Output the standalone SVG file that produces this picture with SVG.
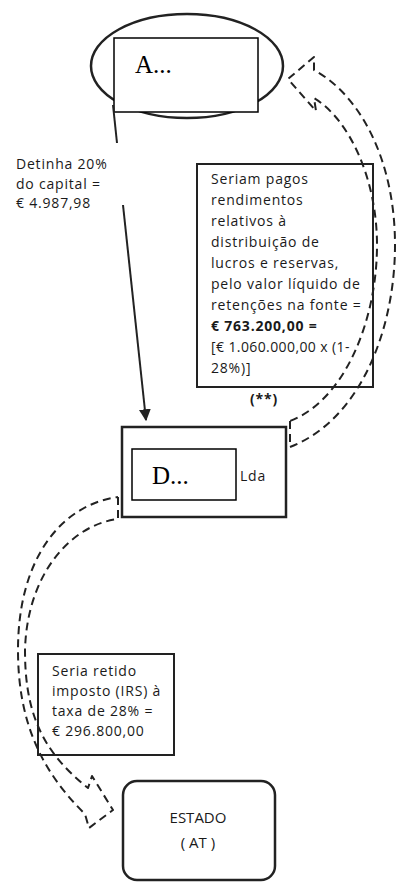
<svg xmlns="http://www.w3.org/2000/svg" width="398" height="884" viewBox="0 0 398 884">
<defs>
<style>
.t{font-family:"Open Sans","Liberation Sans",sans-serif;font-size:14px;fill:#1a1a1a;letter-spacing:0.8px}
.b{font-weight:bold}
.serif{font-family:"Liberation Serif","Times New Roman",serif;font-size:25px;fill:#000}
.box{fill:#fff;stroke:#222;stroke-width:2}
.inner{fill:#fff;stroke:#000;stroke-width:1.5}
.dash{fill:none;stroke:#222;stroke-width:2;stroke-dasharray:8 5;stroke-linejoin:round}
.solid{fill:none;stroke:#222;stroke-width:2}
</style>
<marker id="ah" viewBox="0 0 10 10" refX="9" refY="5" markerWidth="6" markerHeight="6" orient="auto" markerUnits="strokeWidth">
<path d="M0,0 L10,5 L0,10 z" fill="#222"/>
</marker>
</defs>
<rect width="398" height="884" fill="#fff"/>

<g id="nodeA">
<ellipse cx="187" cy="66" rx="96" ry="52" fill="none" stroke="#222" stroke-width="2.5"/>
<rect x="114" y="38" width="144" height="74" class="inner"/>
<text x="135" y="73" class="serif">A...</text>
</g>

<g id="label-detinha">
<text class="t" x="16" y="169">Detinha 20%</text>
<text class="t" x="16" y="189">do capital =</text>
<text class="t" x="16" y="208">€ 4.987,98</text>
</g>

<g id="note-rendimentos">
<rect x="197" y="164" width="176" height="223" class="box"/>
<text class="t" x="211" y="184">Seriam pagos</text>
<text class="t" x="211" y="205">rendimentos</text>
<text class="t" x="211" y="226">relativos à</text>
<text class="t" x="211" y="247">distribuição de</text>
<text class="t" x="211" y="268">lucros e reservas,</text>
<text class="t" x="211" y="289">pelo valor líquido de</text>
<text class="t" x="211" y="310">retenções na fonte =</text>
<text class="t b" x="211" y="331">€ 763.200,00 =</text>
<text class="t" x="211" y="352" style="letter-spacing:0.4px">[€ 1.060.000,00 x (1-</text>
<text class="t" x="211" y="373">28%)]</text>
<text class="t b" x="250" y="404">(**)</text>
</g>

<g id="nodeD">
<rect x="122" y="427" width="164" height="90" fill="#fff" stroke="#222" stroke-width="2.5"/>
<rect x="132" y="449" width="104" height="51" class="inner"/>
<text x="152" y="484" class="serif">D...</text>
<text class="t" x="240" y="481">Lda</text>
</g>

<g id="note-irs">
<rect x="38" y="654" width="136" height="101" class="box"/>
<text class="t" x="52" y="676">Seria retido</text>
<text class="t" x="52" y="696">imposto (IRS) à</text>
<text class="t" x="52" y="716">taxa de 28% =</text>
<text class="t" x="52" y="736">€ 296.800,00</text>
</g>

<g id="nodeEstado">
<rect x="123" y="781" width="152" height="99" rx="14" fill="#fff" stroke="#222" stroke-width="2.5"/>
<text class="t" x="198" y="823" text-anchor="middle" style="font-size:15px;letter-spacing:0">ESTADO</text>
<text class="t" x="198" y="848" text-anchor="middle" style="font-size:15px;letter-spacing:0">( AT )</text>
</g>

<g id="connectors">
<line x1="113" y1="105" x2="117" y2="143" class="solid"/>
<line x1="123" y1="205" x2="146" y2="420" class="solid" marker-end="url(#ah)"/>
<path class="dash" d="M290,421 L290,447 C360,420 395,330 395,245 C395,160 360,95 314,70 L314,57 L288,79 L316,111 L314,98 C350,120 377,180 377,245 C377,320 345,400 290,421"/>
<path class="dash" d="M118,497 L118,519 C70,525 27,575 25,650 C25,710 40,750 88,788 L92,776 L113,810 L89,828 L85,814 C40,770 18,720 18,650 C18,560 60,505 118,497"/>
</g>
</svg>
